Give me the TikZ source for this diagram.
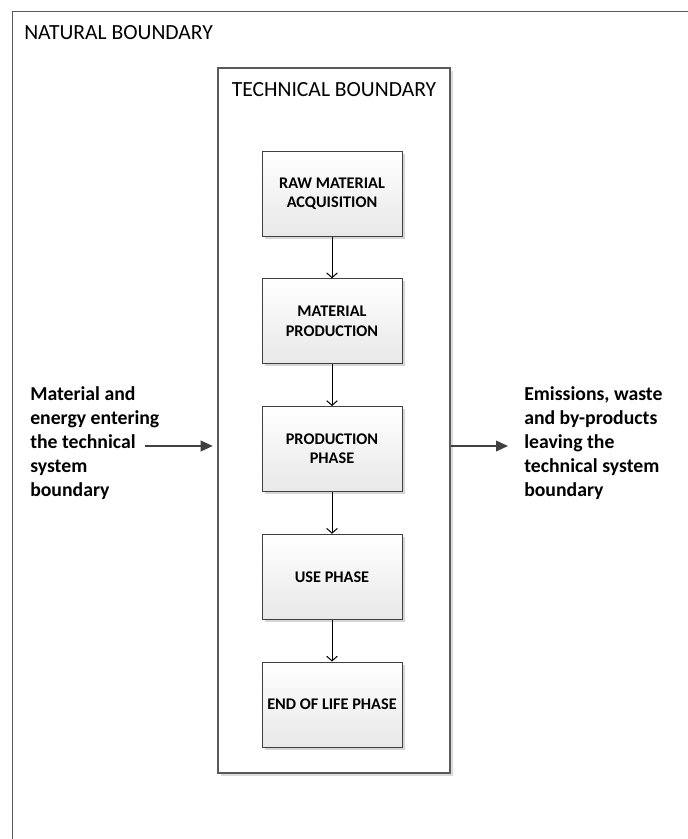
\documentclass[tikz,border=0pt]{standalone}
\usepackage{fontspec}
\setmainfont{Carlito}
\usetikzlibrary{arrows.meta,shadows}
\definecolor{edgegray}{HTML}{404040}
\definecolor{framegray}{HTML}{5A5A5A}
\definecolor{arrowgray}{HTML}{404040}
\begin{document}
\begin{tikzpicture}[x=0.75pt,y=-0.75pt,
  boundary/.style={draw=framegray, line width=0.9pt, fill=white, inner sep=0pt},
  boundarylabel/.style={font=\fontsize{16.2}{19}\selectfont, inner sep=0pt},
  stage/.style={draw=edgegray, line width=0.75pt, minimum width=105pt,
    minimum height=63.75pt, top color=white, bottom color=black!9,
    drop shadow={shadow xshift=2pt, shadow yshift=-2pt, fill=black!16, opacity=1},
    font=\fontsize{12.2}{14.3}\selectfont\bfseries, align=center, inner sep=0pt},
  flow/.style={draw=black, line width=0.75pt, -{Straight Barb[length=3.5pt,width=8pt]}},
  sidearrow/.style={draw=arrowgray, line width=1.2pt, -{Triangle[length=9pt,width=8pt]}},
  sidetext/.style={font=\fontsize{14.8}{18.1}\selectfont\bfseries, align=left,
    inner sep=0pt, anchor=north west}]
  % page area
  \clip (0,0) rectangle (688,839);
  \fill[white] (0,0) rectangle (688,839);

  % natural boundary, running past the page edges
  \node[boundary, anchor=north west, minimum width=516pt, minimum height=640pt] (nature) at (12,11) {};
  \node[boundarylabel, anchor=west] (naturelabel) at (24,33) {NATURAL BOUNDARY};

  % technical boundary
  \node[boundary, minimum width=174pt, minimum height=528.75pt,
    drop shadow={shadow xshift=2pt, shadow yshift=-2pt, fill=black!14, opacity=1}]
    (tech) at (334,420.5) {};
  \node[boundarylabel] (techlabel) at (334,90) {TECHNICAL BOUNDARY};

  % life-cycle stages
  \node[stage] (raw) at (332,193.5) {RAW MATERIAL\\ACQUISITION};
  \node[stage] (matprod) at (332,321.25) {MATERIAL\\PRODUCTION};
  \node[stage] (prodphase) at (332,449) {PRODUCTION\\PHASE};
  \node[stage] (use) at (332,576.75) {USE PHASE};
  \node[stage] (eol) at (332,704.5) {END OF LIFE PHASE};

  \draw[flow] (raw) -- (matprod);
  \draw[flow] (matprod) -- (prodphase);
  \draw[flow] (prodphase) -- (use);
  \draw[flow] (use) -- (eol);

  % inputs and outputs across the technical boundary
  \node[sidetext] (inputs) at (30,386)
    {Material and\\energy entering\\the technical\\system\\boundary};
  \node[sidetext] (outputs) at (524,386)
    {Emissions, waste\\and by-products\\leaving the\\technical system\\boundary};

  \coordinate (inflow) at (145,446);
  \coordinate (outflow) at (508,446);
  \draw[sidearrow, shorten >=3.5pt] (inflow) -- (tech.west |- inflow);
  \draw[sidearrow] (tech.east |- outflow) -- (outflow);
\end{tikzpicture}
\end{document}
